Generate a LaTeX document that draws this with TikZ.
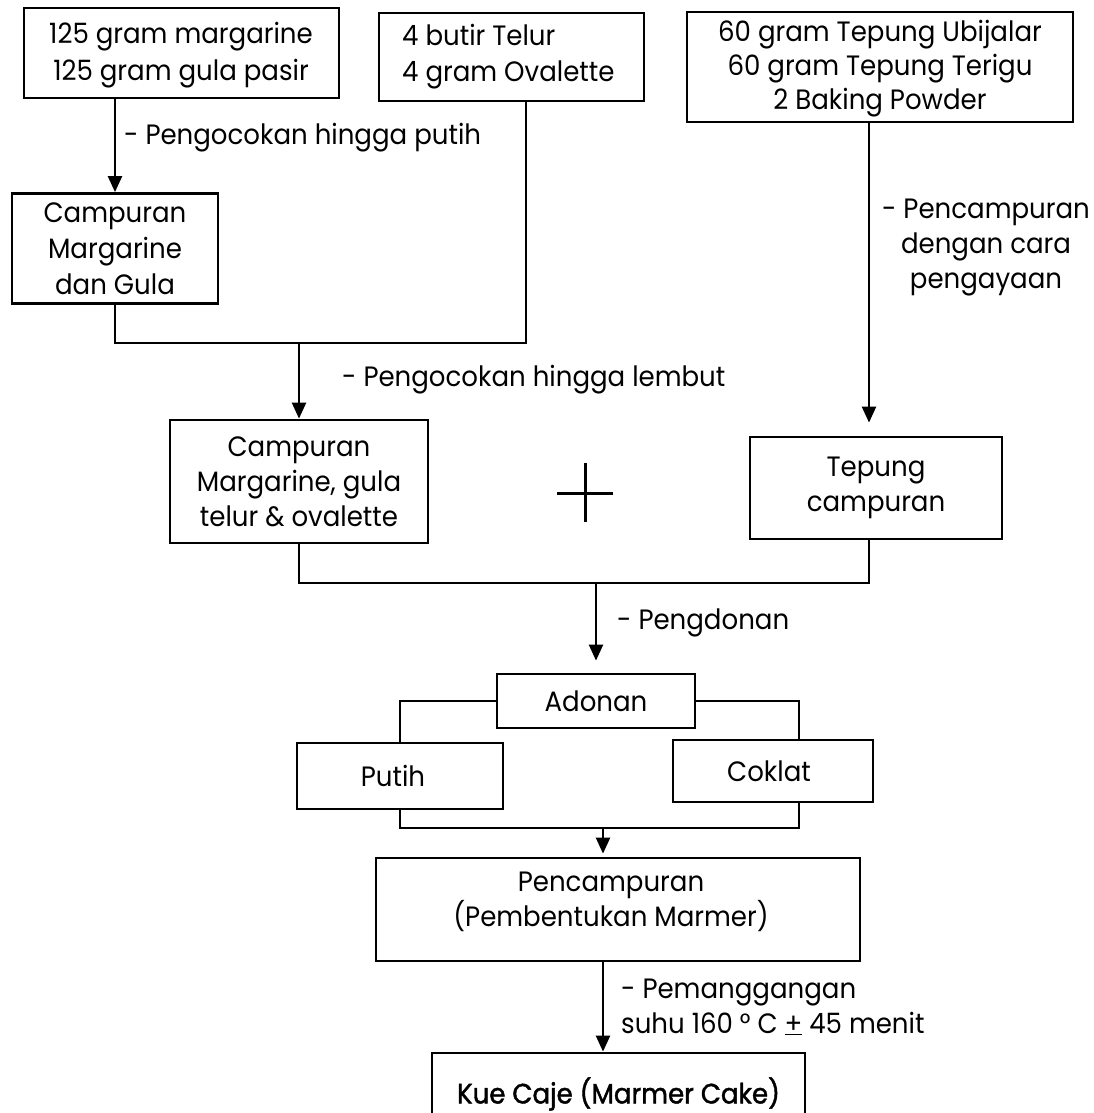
\documentclass[tikz,border=0pt]{standalone}
\usepackage{fontspec}
\setmainfont[FakeStretch=0.93]{Poppins}
\newfontfamily\kuefont[FakeBold=1.5,FakeStretch=0.93]{Poppins}
\usetikzlibrary{arrows.meta,calc}
\begin{document}
\begin{tikzpicture}[x=1pt,y=-1pt,
  box/.style={draw, line width=2.8pt, inner sep=0pt, align=center, font=\fontsize{28}{36}\selectfont},
  lbl/.style={inner sep=0pt, font=\fontsize{28}{35}\selectfont},
  conn/.style={line width=2.4pt},
  arr/.style={conn, -{Triangle[width=14pt,length=16pt]}},
]
\useasboundingbox (0,0) rectangle (1094,1113);
\clip (0,0) rectangle (1094,1113);
\fill[white] (0,0) rectangle (1094,1113);

% boxes
\node[box, minimum width=315pt, minimum height=90pt] (A) at (181.5,53) {};
\node[lbl, align=center, font=\fontsize{28}{37}\selectfont] (At) at (181,55) {125 gram margarine\\125 gram gula pasir};
\node[box, minimum width=265pt, minimum height=88pt] (B) at (511.5,57) {};
\node[lbl, anchor=west, align=left, font=\fontsize{28}{36}\selectfont] (Bt) at (402,57) {4 butir Telur\\4 gram Ovalette};
\node[box, minimum width=386pt, minimum height=110pt] (C) at (880,67) {};
\node[lbl, align=center, font=\fontsize{28}{34}\selectfont] (Ct) at (880,69) {60 gram Tepung Ubijalar\\60 gram Tepung Terigu\\2 Baking Powder};
\node[box, minimum width=206pt, minimum height=110pt] (D) at (115,248.5) {Campuran\\Margarine\\dan Gula};
\node[box, minimum width=258pt, minimum height=123pt, font=\fontsize{28}{35}\selectfont] (E) at (299,481.5) {Campuran\\Margarine, gula\\telur \& ovalette};
\node[box, minimum width=252pt, minimum height=102pt, font=\fontsize{28}{35}\selectfont] (F) at (876,488) {Tepung\\campuran};
\node[box, minimum width=198pt, minimum height=54pt] (G) at (596,701) {Adonan};
\node[box, minimum width=206pt, minimum height=66pt] (P) at (400,776) {\hspace*{-14pt}Putih};
\node[box, minimum width=200pt, minimum height=62pt] (K) at (773,771) {\hspace*{-8pt}Coklat};
\node[box, minimum width=484pt, minimum height=103pt] (M) at (618,909.5) {};
\node[lbl, align=center] (Mt) at (611,902) {Pencampuran\\(Pembentukan Marmer)};
\node[box, minimum width=373pt, minimum height=82pt, font=\kuefont\fontsize{28}{35}\selectfont] (Z) at (618.5,1094) {Kue Caje (Marmer Cake)};

% helper coordinates
\coordinate (bx) at (526,0);
\coordinate (j1) at (0,343);
\coordinate (cx) at (869,0);
\coordinate (j2) at (0,583);
\coordinate (kx) at (799,0);
\coordinate (j3) at (0,828);
\coordinate (mx) at (603,0);

% connectors
\draw[arr] (A.south -| D.north) -- (D.north);
\draw[conn] (D.south) -- (D.south |- j1) -- (bx |- j1) -- (B.south -| bx);
\draw[arr] (E.north |- j1) -- (E.north);
\draw[arr, shorten >=13pt] (C.south -| cx) -- (F.north -| cx);
\draw[conn] (E.south) -- (E.south |- j2) -- (cx |- j2) -- (F.south -| cx);
\draw[arr, shorten >=12pt] (G.north |- j2) -- (G.north);
\draw[conn] (G.west) -| (P.north);
\draw[conn] (G.east) -| (K.north -| kx);
\draw[conn] (P.south) -- (P.south |- j3) -- (kx |- j3) -- (K.south -| kx);
\draw[arr, shorten >=3pt] (mx |- j3) -- (M.north -| mx);
\draw[arr] (M.south -| mx) -- (Z.north -| mx);

% plus sign
\draw[line width=3pt] (585,463) -- (585,522) (557,493) -- (613,493);

% labels
\node[lbl, anchor=west] (L1) at (124,138) {- Pengocokan hingga putih};
\node[lbl, anchor=west] (L2) at (342,380) {- Pengocokan hingga lembut};
\node[lbl, align=center] (L3) at (986,248) {- Pencampuran\\dengan cara\\pengayaan};
\node[lbl, anchor=west] (L4) at (617,623) {- Pengdonan};
\node[lbl, anchor=west, align=left] (L5) at (621,1007) {- Pemanggangan\\suhu 160 ° C \underline{+} 45 menit};
\end{tikzpicture}
\end{document}
